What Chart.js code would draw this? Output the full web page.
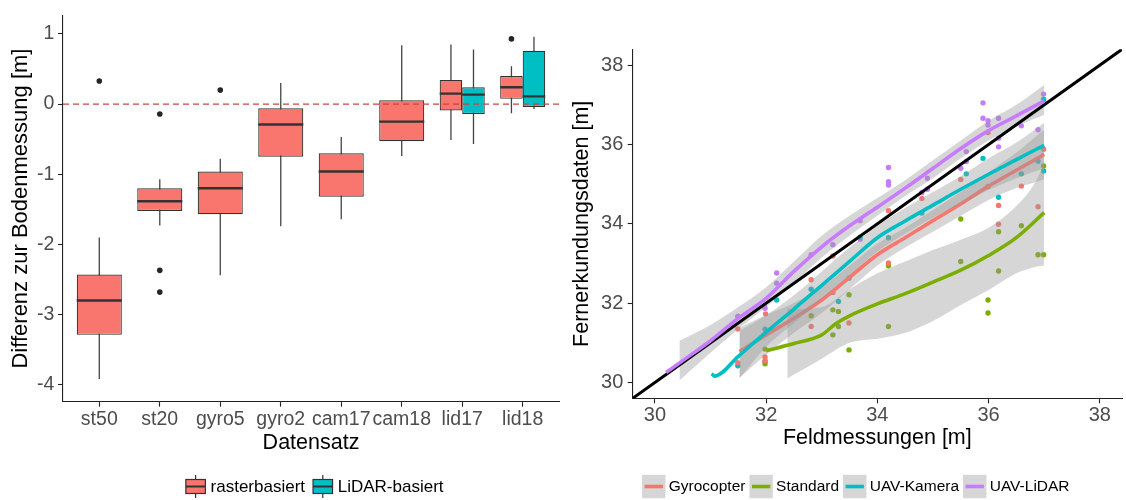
<!DOCTYPE html>
<html><head><meta charset="utf-8">
<script src="https://cdn.jsdelivr.net/npm/chart.js@4.4.1/dist/chart.umd.min.js"></script>
<style>
html,body{margin:0;padding:0;background:#fff;overflow:hidden;width:1126px;height:500px;}
#left{position:absolute;left:0;top:0;width:566px;height:500px;}
#right{position:absolute;left:560px;top:0;width:566px;height:500px;}
</style></head><body>
<div id="left"><canvas id="c1"></canvas></div>
<div id="right"><canvas id="c2"></canvas></div>
<script>
// ---------- LEFT PANEL DATA (boxplots) ----------
const categories = ['st50','st20','gyro5','gyro2','cam17','cam18','lid17','lid18'];
const yTicksLeft = [-4,-3,-2,-1,0,1];
const groupNames = ['rasterbasiert','LiDAR-basiert'];
const rasterLow  = [-3.92,-1.73,-2.44,-1.74,-1.64,-0.74,-0.51,-0.13];
const rasterQ1   = [-3.29,-1.525,-1.57,-0.75,-1.32,-0.53,-0.09,0.075];
const rasterMed  = [-2.80,-1.385,-1.20,-0.29,-0.96,-0.25,0.15,0.24];
const rasterQ3   = [-2.43,-1.20,-0.96,-0.06,-0.70,0.056,0.345,0.40];
const rasterHigh = [-1.90,-1.07,-0.78,0.30,-0.47,0.84,0.85,0.54];
const rasterOutliers = [[0.33],[-0.14,-2.37,-2.68],[0.20],[],[],[],[],[0.93]];
const lidarLow  = [null,null,null,null,null,null,-0.57,-0.07];
const lidarQ1   = [null,null,null,null,null,null,-0.14,-0.04];
const lidarMed  = [null,null,null,null,null,null,0.135,0.11];
const lidarQ3   = [null,null,null,null,null,null,0.24,0.76];
const lidarHigh = [null,null,null,null,null,null,0.78,0.96];
const lidarOutliers = [[],[],[],[],[],[],[],[]];
const referenceValue = 0;

// ---------- RIGHT PANEL DATA (scatter + smooths) ----------
const seriesNames = ['Gyrocopter','Standard','UAV-Kamera','UAV-LiDAR'];
const axisTicksRight = [30,32,34,36,38];
const axisRangeRight = [29.6, 38.4];

const gyroPtsX = [31.49,31.49,31.98,31.98,31.99,32.81,32.81,33.20,33.20,33.49,34.20,34.20,34.80,35.50,35.99,35.99,36.18,36.18,36.59,36.89,36.99];
const gyroPtsY = [30.50,31.35,30.55,30.64,31.73,31.41,32.59,32.27,33.19,31.50,33.01,34.33,34.64,35.12,36.30,34.94,34.46,33.99,34.95,34.43,35.88];
const stdPtsX = [31.98,31.98,31.98,32.81,33.20,33.20,33.30,33.30,33.49,33.49,34.20,34.20,35.50,35.50,35.99,35.99,36.18,36.18,36.59,36.89,36.99,36.99];
const stdPtsY = [30.84,30.53,30.47,31.68,31.83,31.20,31.79,31.41,32.21,30.82,32.94,31.41,34.12,33.05,32.08,31.75,33.80,32.81,33.95,33.22,33.22,35.46];
const kamPtsX = [31.49,31.98,32.19,32.81,33.30,33.49,33.69,34.20,34.80,35.60,35.90,36.18,36.59,36.89,36.99,36.99];
const kamPtsY = [30.42,31.34,32.08,32.35,32.04,32.63,33.66,33.65,34.27,35.26,35.65,34.67,35.26,35.58,35.33,37.14];
const lidPtsX = [31.49,31.97,31.98,32.19,32.19,32.81,33.20,33.69,33.69,34.20,34.20,34.20,34.80,34.90,34.90,35.50,35.60,35.60,35.90,35.90,35.99,35.99,36.18,36.18,36.18,36.59,36.89,36.99,36.99];
const lidPtsY = [31.67,31.91,31.87,32.76,32.50,33.22,33.47,34.08,33.61,35.42,35.06,34.98,34.79,35.15,34.87,35.40,35.57,35.82,37.05,36.66,36.60,36.49,36.66,35.94,36.16,36.47,36.37,37.27,37.12];

const gyroFitX = [31.52,32,32.5,33,33.5,34,34.5,35,35.5,36,36.5,37];
const gyroFitY = [30.78,31.2,31.62,32.08,32.65,33.22,33.65,34.08,34.5,34.95,35.35,35.75];
const gyroBandX  = [31.52,32,32.5,33,33.5,34,34.5,35,35.5,36,36.5,37];
const gyroBandLo = [30.12,30.7,31.25,31.75,32.35,32.95,33.4,33.8,34.2,34.6,34.9,35.12];
const gyroBandHi = [31.38,31.7,32.0,32.4,32.95,33.5,33.9,34.35,34.8,35.3,35.8,36.38];

const stdFitX = [32.0,32.5,33.0,33.25,33.5,34,34.5,35,35.5,36,36.5,37];
const stdFitY = [30.8,30.98,31.2,31.48,31.68,31.98,32.24,32.53,32.83,33.2,33.65,34.28];
const stdBandX  = [32.38,32.5,33,33.5,34,34.5,35,35.5,36,36.5,36.8,37];
const stdBandLo = [30.1,30.2,30.6,31.0,31.1,31.25,31.55,31.95,32.33,32.75,32.9,32.95];
const stdBandHi = [31.87,31.85,31.9,32.35,32.75,33.05,33.34,33.6,33.9,34.45,34.95,35.5];

const kamFitX = [31.02,31.07,31.5,32,32.5,33,33.5,34,34.5,35,35.5,36,36.5,37];
const kamFitY = [30.22,30.16,30.66,31.27,31.85,32.45,33.05,33.65,34.07,34.47,34.87,35.25,35.62,35.98];
const kamBandX  = [31.52,32,32.5,33,33.5,34,34.5,35,35.5,36,36.5,37];
const kamBandLo = [30.1,30.9,31.5,32.1,32.7,33.3,33.75,34.15,34.5,34.85,35.15,35.4];
const kamBandHi = [31.3,31.7,32.2,32.8,33.4,33.95,34.4,34.8,35.2,35.65,36.05,36.55];

const lidFitX = [30.2,30.5,31,31.5,32,32.5,33,33.5,34,34.5,35,35.5,36,36.5,37];
const lidFitY = [30.25,30.55,31.05,31.62,32.12,32.8,33.42,33.95,34.42,34.9,35.4,35.9,36.35,36.72,37.1];
const lidBandX  = [30.44,31,31.5,32,32.5,33,33.5,34,34.5,35,35.5,36,36.5,37];
const lidBandLo = [30.05,30.75,31.35,31.9,32.5,33.15,33.7,34.2,34.7,35.15,35.65,36.1,36.45,36.75];
const lidBandHi = [31.05,31.45,31.9,32.4,33.05,33.7,34.2,34.65,35.1,35.6,36.1,36.6,37.0,37.5];

// ---------- STYLE ----------
const FONT = "'Liberation Sans', Arial, Helvetica, sans-serif";
Chart.defaults.font.family = FONT;
Chart.defaults.animation = false;
const boxColors = ['#F8766D', '#00BFC4'];
const seriesColors = ['#F8766D', '#7CAE00', '#00BFC4', '#C77CFF'];
const axisColor = '#222';
const tickColor = '#4d4d4d';
const ribbonFill = 'rgba(153,153,153,0.4)';

function axisStyle() {
  return {
    grid: {display: true, offset: false, drawOnChartArea: false, drawTicks: true, tickLength: 5, color: axisColor, tickColor: axisColor, tickWidth: 1.1},
    border: {display: true, color: axisColor, width: 1.1}
  };
}

// ---------- LEFT CHART ----------
function boxData(lo, hi) {
  return categories.map((c, i) => ({x: i, y: lo[i] == null ? null : [lo[i], hi[i]]}));
}

const boxExtras = {
  id: 'boxExtras',
  afterDatasetsDraw(chart) {
    const ctx = chart.ctx;
    const ys = chart.scales.y;
    const area = chart.chartArea;
    ctx.save();
    ctx.beginPath();
    ctx.rect(area.left, area.top, area.right - area.left, area.bottom - area.top);
    ctx.clip();
    [0, 1].forEach(di => {
      const ds = chart.data.datasets[di];
      const meta = chart.getDatasetMeta(di);
      meta.data.forEach((el, j) => {
        if (ds.medians[j] == null) return;
        const y = ys.getPixelForValue(ds.medians[j]);
        ctx.strokeStyle = '#333';
        ctx.lineWidth = 2.4;
        ctx.beginPath();
        ctx.moveTo(el.x - el.width / 2, y);
        ctx.lineTo(el.x + el.width / 2, y);
        ctx.stroke();
        ds.outliers[j].forEach(v => {
          ctx.fillStyle = '#262626';
          ctx.beginPath();
          ctx.arc(el.x, ys.getPixelForValue(v), 2.8, 0, Math.PI * 2);
          ctx.fill();
        });
      });
    });
    const y0 = ys.getPixelForValue(referenceValue);
    ctx.strokeStyle = '#c8453f';
    ctx.lineWidth = 1.4;
    ctx.setLineDash([6, 4]);
    ctx.beginPath();
    ctx.moveTo(area.left, y0);
    ctx.lineTo(area.right, y0);
    ctx.stroke();
    ctx.restore();
  }
};

function makeLegend(id, drawIcon, opts) {
  return {
    id,
    afterDraw(chart) {
      const ctx = chart.ctx;
      ctx.save();
      ctx.font = opts.fontSize + 'px ' + FONT;
      const widths = opts.labels.map(t => ctx.measureText(t).width);
      let total = 0;
      widths.forEach((w, i) => { total += opts.iconW + opts.gapIcon + w + (i < widths.length - 1 ? opts.gapItem : 0); });
      let x = opts.centerX - total / 2;
      const cy = opts.cy;
      opts.labels.forEach((t, i) => {
        drawIcon(ctx, x, cy, i);
        ctx.fillStyle = '#000';
        ctx.textBaseline = 'middle';
        ctx.textAlign = 'left';
        ctx.fillText(t, x + opts.iconW + opts.gapIcon, cy + 0.5);
        x += opts.iconW + opts.gapIcon + widths[i] + opts.gapItem;
      });
      ctx.restore();
    }
  };
}

const leftLegend = makeLegend('leftLegend', (ctx, x, cy, i) => {
  const w = 19.5;
  ctx.strokeStyle = '#333';
  ctx.lineWidth = 1.2;
  ctx.beginPath(); ctx.moveTo(x + w / 2, cy - 11.5); ctx.lineTo(x + w / 2, cy + 11.5); ctx.stroke();
  ctx.fillStyle = boxColors[i];
  ctx.fillRect(x, cy - 7, w, 14);
  ctx.strokeRect(x, cy - 7, w, 14);
  ctx.lineWidth = 2;
  ctx.beginPath(); ctx.moveTo(x, cy); ctx.lineTo(x + w, cy); ctx.stroke();
}, {labels: groupNames, fontSize: 17, iconW: 19.5, gapIcon: 5.2, gapItem: 8, centerX: 314.7, cy: 486.5});

const barCommon = {categoryPercentage: 0.745, barPercentage: 1, skipNull: true, borderSkipped: false};

new Chart(document.getElementById('c1'), {
  type: 'bar',
  data: {
    datasets: [
      Object.assign({label: groupNames[0], stack: 'r', data: boxData(rasterQ1, rasterQ3), backgroundColor: boxColors[0], borderColor: '#333', borderWidth: 1.2, medians: rasterMed, outliers: rasterOutliers}, barCommon),
      Object.assign({label: groupNames[1], stack: 'l', data: boxData(lidarQ1, lidarQ3), backgroundColor: boxColors[1], borderColor: '#333', borderWidth: 1.2, medians: lidarMed, outliers: lidarOutliers}, barCommon),
      Object.assign({label: 'whisker r', stack: 'r', data: boxData(rasterLow, rasterHigh), backgroundColor: '#444', borderWidth: 0, maxBarThickness: 1.3}, barCommon),
      Object.assign({label: 'whisker l', stack: 'l', data: boxData(lidarLow, lidarHigh), backgroundColor: '#444', borderWidth: 0, maxBarThickness: 1.3}, barCommon)
    ]
  },
  options: {
    responsive: true, maintainAspectRatio: false, animation: false,
    layout: {padding: {left: 0, right: 7, top: 6.7, bottom: 44.3}},
    plugins: {legend: {display: false}, tooltip: {enabled: false}},
    scales: {
      x: Object.assign({
        type: 'linear', min: -0.6, max: 7.6, offset: false,
        afterBuildTicks: s => { s.ticks = categories.map((c, i) => ({value: i})); },
        afterFit: s => { s.height = 54; },
        ticks: {autoSkip: false, maxRotation: 0, minRotation: 0, padding: 0.9, color: tickColor, font: {size: 19.5}, callback: v => categories[v]},
        title: {display: true, text: 'Datensatz', color: '#000', font: {size: 21.5}, padding: {top: 0, bottom: 0}}
      }, axisStyle()),
      y: Object.assign({
        type: 'linear', min: -4.243, max: 1.265, stacked: false,
        afterBuildTicks: s => { s.ticks = yTicksLeft.map(v => ({value: v})); },
        afterFit: s => { s.width = 63; },
        ticks: {padding: 3.7, color: tickColor, font: {size: 19.5}, callback: v => String(v)},
        title: {display: true, text: 'Differenz zur Bodenmessung [m]', color: '#000', font: {size: 22}, padding: {top: 7.5, bottom: 0}}
      }, axisStyle())
    }
  },
  plugins: [boxExtras, leftLegend]
});

// ---------- RIGHT CHART ----------
function pts(xs, ys) { return xs.map((x, i) => ({x, y: ys[i]})); }

const ptsSets = [[gyroPtsX, gyroPtsY], [stdPtsX, stdPtsY], [kamPtsX, kamPtsY], [lidPtsX, lidPtsY]];
const fitSets = [[gyroFitX, gyroFitY], [stdFitX, stdFitY], [kamFitX, kamFitY], [lidFitX, lidFitY]];
const bandSets = [[gyroBandX, gyroBandLo, gyroBandHi], [stdBandX, stdBandLo, stdBandHi], [kamBandX, kamBandLo, kamBandHi], [lidBandX, lidBandLo, lidBandHi]];

const rightDatasets = [];
ptsSets.forEach((p, k) => {
  rightDatasets.push({type: 'scatter', label: seriesNames[k] + ' pts', data: pts(p[0], p[1]), pointRadius: 2.7, pointBackgroundColor: seriesColors[k], pointBorderWidth: 0, showLine: false, order: 20});
});
const bandOrder = [9, 7, 5, 3];
const lineOrder = [8, 6, 4, 1];
bandSets.forEach((b, k) => {
  rightDatasets.push({type: 'line', label: seriesNames[k] + ' hi', data: pts(b[0], b[2]), fill: '+1', backgroundColor: ribbonFill, borderWidth: 0, pointRadius: 0, cubicInterpolationMode: 'monotone', order: bandOrder[k]});
  rightDatasets.push({type: 'line', label: seriesNames[k] + ' lo', data: pts(b[0], b[1]), fill: false, borderWidth: 0, pointRadius: 0, cubicInterpolationMode: 'monotone', order: bandOrder[k]});
});
fitSets.forEach((f, k) => {
  rightDatasets.push({type: 'line', label: seriesNames[k], data: pts(f[0], f[1]), fill: false, borderColor: seriesColors[k], borderWidth: 3.6, pointRadius: 0, cubicInterpolationMode: 'monotone', order: lineOrder[k]});
});
rightDatasets.push({type: 'line', label: '1:1', data: pts(axisRangeRight, axisRangeRight), fill: false, borderColor: '#000', borderWidth: 3, pointRadius: 0, order: 2});

const rightLegend = makeLegend('rightLegend', (ctx, x, cy, i) => {
  const w = 23.4;
  ctx.fillStyle = ribbonFill;
  ctx.fillRect(x, cy - w / 2, w, w);
  ctx.strokeStyle = seriesColors[i];
  ctx.lineWidth = 3.6;
  ctx.beginPath(); ctx.moveTo(x + 2.5, cy); ctx.lineTo(x + w - 2.5, cy); ctx.stroke();
}, {labels: seriesNames, fontSize: 15.5, iconW: 23.4, gapIcon: 3.3, gapItem: 4, centerX: 295.8, cy: 486.5});

new Chart(document.getElementById('c2'), {
  type: 'scatter',
  data: {datasets: rightDatasets},
  options: {
    responsive: true, maintainAspectRatio: false, animation: false,
    layout: {padding: {left: 0, right: 3.3, top: 49.3, bottom: 48.6}},
    plugins: {legend: {display: false}, tooltip: {enabled: false}},
    scales: {
      x: Object.assign({
        type: 'linear', min: axisRangeRight[0], max: axisRangeRight[1],
        afterBuildTicks: s => { s.ticks = axisTicksRight.map(v => ({value: v})); },
        afterFit: s => { s.height = 53.1; },
        ticks: {autoSkip: false, maxRotation: 0, padding: 0.5, color: tickColor, font: {size: 20}, callback: v => String(v)},
        title: {display: true, text: 'Feldmessungen [m]', color: '#000', font: {size: 21.5}, padding: {top: 0, bottom: 0}}
      }, axisStyle()),
      y: Object.assign({
        type: 'linear', min: axisRangeRight[0], max: axisRangeRight[1],
        afterBuildTicks: s => { s.ticks = axisTicksRight.map(v => ({value: v})); },
        afterFit: s => { s.width = 72.7; },
        ticks: {padding: 4.4, color: tickColor, font: {size: 20}, callback: v => String(v)},
        title: {display: true, text: 'Fernerkundungsdaten [m]', color: '#000', font: {size: 21.5}, padding: {top: 9.6, bottom: 0}}
      }, axisStyle())
    }
  },
  plugins: [rightLegend]
});
</script>
</body></html>
